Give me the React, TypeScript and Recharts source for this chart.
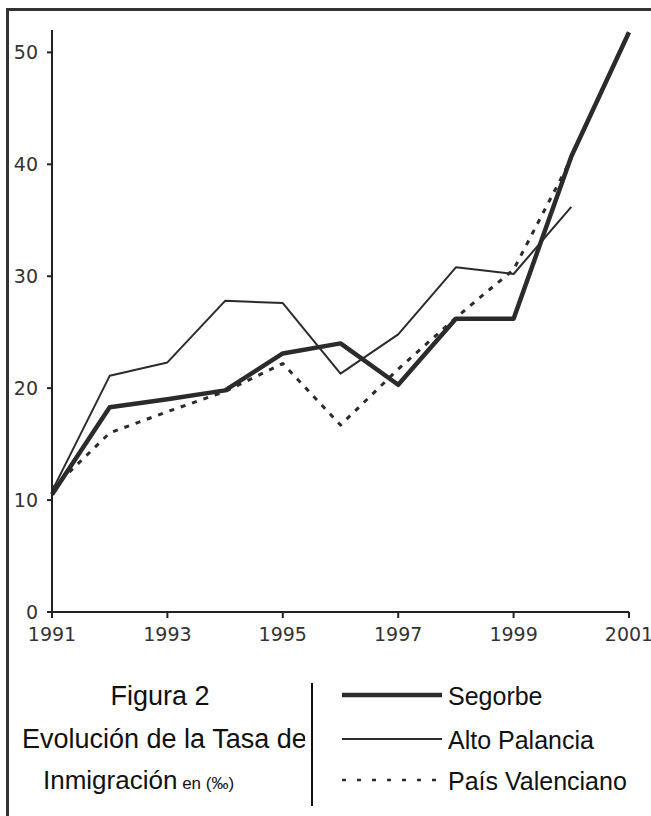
import React from "react";
import { LineChart, Line, XAxis, YAxis } from "recharts";

const years = [1991, 1992, 1993, 1994, 1995, 1996, 1997, 1998, 1999, 2000, 2001];
const segorbe = [10.5, 18.3, 19.0, 19.8, 23.1, 24.0, 20.3, 26.2, 26.2, 40.7, 51.8];
const altoPalancia = [10.8, 21.1, 22.3, 27.8, 27.6, 21.3, 24.8, 30.8, 30.2, 36.2, null];
const paisValenciano = [11.0, 16.0, 17.9, 19.7, 22.2, 16.7, 21.7, 26.3, 30.6, 40.5, null];

const xTicks = [1991, 1993, 1995, 1997, 1999, 2001];
const yTicks = [0, 10, 20, 30, 40, 50];

const data = years.map((year, i) => ({
  year,
  segorbe: segorbe[i],
  alto: altoPalancia[i],
  pais: paisValenciano[i],
}));

const series = [
  { key: "segorbe", name: "Segorbe", width: 4.5, dash: undefined },
  { key: "alto", name: "Alto Palancia", width: 2, dash: undefined },
  { key: "pais", name: "País Valenciano", width: 3, dash: "5 7" },
];

const ink = "#2b2b2b";
const tickStyle = { fontSize: 19, fill: "#333", fontFamily: "DejaVu Sans" };
const sans = "Liberation Sans, Arial, sans-serif";

export default function App() {
  return (
    <div style={{ position: "absolute", left: 0, top: 0, width: 651, height: 816, overflow: "hidden", background: "#fff" }}>
      {/* marco: solo se ve arriba e izquierda */}
      <div
        style={{
          position: "absolute",
          left: 6,
          top: 8,
          width: 800,
          height: 900,
          borderLeft: "3px solid #333",
          borderTop: "3px solid #333",
        }}
      />
      <div style={{ position: "absolute", left: 0, top: 0 }}>
        <LineChart width={651} height={660} data={data} margin={{ top: 30, right: 22, left: 8, bottom: 8 }}>
          <XAxis
            dataKey="year"
            type="number"
            domain={[1991, 2001]}
            ticks={xTicks}
            height={40}
            tickSize={6}
            tickMargin={10}
            stroke="#222"
            strokeWidth={2}
            tick={tickStyle}
            interval={0}
          />
          <YAxis
            domain={[0, 52]}
            ticks={yTicks}
            width={44}
            tickSize={5}
            tickMargin={9}
            stroke="#222"
            strokeWidth={2}
            tick={tickStyle}
            interval={0}
          />
          {series.map((s) => (
            <Line
              key={s.key}
              type="linear"
              dataKey={s.key}
              name={s.name}
              stroke={ink}
              strokeWidth={s.width}
              strokeDasharray={s.dash}
              dot={false}
              activeDot={false}
              isAnimationActive={false}
              strokeLinejoin="round"
            />
          ))}
        </LineChart>
      </div>
      <svg width={651} height={816} style={{ position: "absolute", left: 0, top: 0 }}>
        <defs>
          <clipPath id="titleClip">
            <rect x={0} y={660} width={305} height={156} />
          </clipPath>
        </defs>
        <g fontFamily={sans} fill="#111">
          <text x={160} y={705} fontSize={27} textAnchor="middle">
            Figura 2
          </text>
          <text x={22} y={748} fontSize={27} clipPath="url(#titleClip)">
            Evolución de la Tasa de
          </text>
          <text x={43} y={789} fontSize={26}>
            Inmigración
            <tspan fontSize={17}> en (‰)</tspan>
          </text>
        </g>
        <line x1={312} y1={683} x2={312} y2={806} stroke="#111" strokeWidth={2} />
        {series.map((s, i) => {
          const y = [695, 739, 780][i];
          return (
            <g key={s.key}>
              <line
                x1={342}
                y1={y}
                x2={442}
                y2={y}
                stroke={ink}
                strokeWidth={s.dash ? 2.5 : s.width}
                strokeDasharray={s.dash ? "4 11" : undefined}
              />
              <text x={448} y={y + 10} fontSize={25} fontFamily={sans} fill="#111">
                {s.name}
              </text>
            </g>
          );
        })}
      </svg>
    </div>
  );
}
